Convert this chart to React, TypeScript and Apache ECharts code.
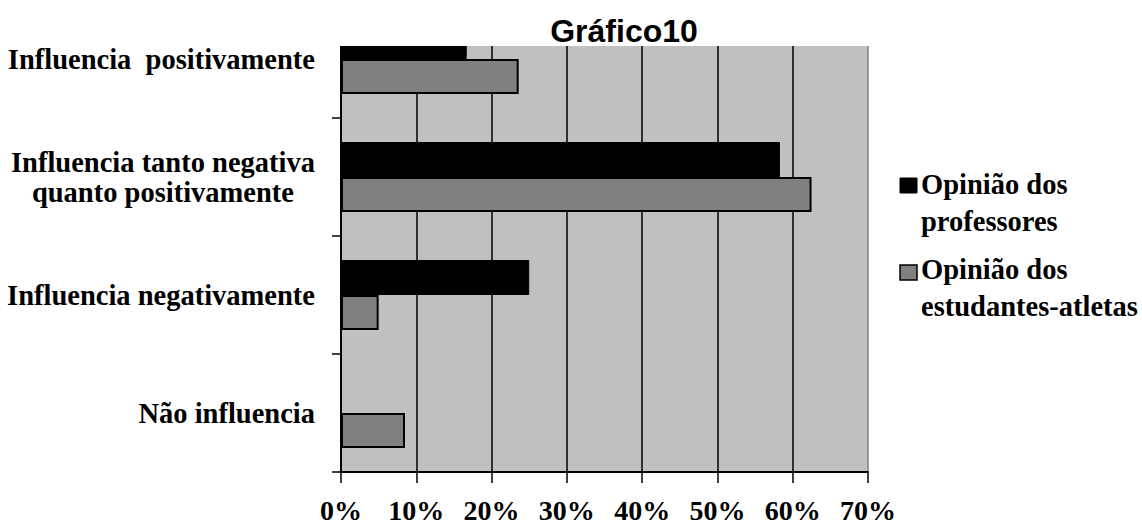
import React, { useEffect, useRef } from "react";
import * as echarts from "echarts";

const categories = [
  "Influencia  positivamente",
  "Influencia tanto negativa\nquanto positivamente",
  "Influencia negativamente",
  "Não influencia",
];
const seriesNames = ["Opinião dos professores", "Opinião dos estudantes-atletas"];
const legendLabels = ["Opinião dos\nprofessores", "Opinião dos\nestudantes-atletas"];
const professores = [16.7, 58.3, 25.0, 0];
const estudantes = [23.6, 62.5, 5.0, 8.5];
const xTickLabels = ["0%", "10%", "20%", "30%", "40%", "50%", "60%", "70%"];

const SERIF = "'Liberation Serif', 'Times New Roman', serif";

export default function App() {
  const ref = useRef<HTMLDivElement>(null);
  useEffect(() => {
    if (!ref.current) return;
    const chart = echarts.init(ref.current, null, { renderer: "svg" });
    const splitColors = xTickLabels.map((_, i) => (i === xTickLabels.length - 1 ? "#808080" : "#000000"));
    chart.setOption({
      animation: false,
      backgroundColor: "#ffffff",
      title: {
        text: "Gráfico10",
        left: 619,
        textAlign: "center",
        top: 10,
        textStyle: { fontFamily: "'Liberation Sans', Arial, sans-serif", fontWeight: "bold", fontSize: 32, color: "#000" },
        z: 10,
      },
      grid: {
        left: 341,
        right: 274,
        top: -3,
        bottom: 47,
        show: true,
        backgroundColor: "#c0c0c0",
        borderWidth: 0,
      },
      xAxis: {
        type: "value",
        min: 0,
        max: 70,
        interval: 10,
        axisLine: { show: true, lineStyle: { color: "#000", width: 2 } },
        axisTick: { show: true, length: 11, lineStyle: { color: "#000", width: 1.5 } },
        splitLine: { show: true, lineStyle: { color: splitColors, width: 1.5 } },
        axisLabel: {
          formatter: (v: number) => xTickLabels[Math.round(v / 10)] ?? "",
          margin: 24,
          fontFamily: SERIF,
          fontWeight: "bold",
          fontSize: 28,
          color: "#000",
        },
      },
      yAxis: {
        type: "category",
        inverse: true,
        data: categories,
        axisLine: { show: true, lineStyle: { color: "#000", width: 2 } },
        axisTick: { show: true, length: 9, lineStyle: { color: "#000", width: 1.5 } },
        axisLabel: {
          margin: 26,
          fontFamily: SERIF,
          fontWeight: "bold",
          fontSize: 28.5,
          color: "#000",
          lineHeight: 30,
          align: "right",
          formatter: (v: string) => {
            const parts = v.split("\n");
            if (parts.length === 2) return `{a|${parts[0]}}\n{b|${parts[1]}}`;
            return v;
          },
          rich: {
            a: { fontFamily: SERIF, fontWeight: "bold", fontSize: 28.5, color: "#000", lineHeight: 30 },
            b: { fontFamily: SERIF, fontWeight: "bold", fontSize: 28.5, color: "#000", lineHeight: 30, padding: [0, 21, 0, 0] },
          },
        },
      },
      series: [
        {
          name: seriesNames[0],
          type: "bar",
          data: professores,
          barWidth: 35,
          barGap: "0%",
          itemStyle: { color: "#000000", borderColor: "#000000", borderWidth: 1 },
        },
        {
          name: seriesNames[1],
          type: "bar",
          data: estudantes,
          barWidth: 35,
          barGap: "0%",
          itemStyle: { color: "#808080", borderColor: "#000000", borderWidth: 2 },
        },
      ],
      graphic: [
        { type: "rect", z: 5, shape: { x: 328, y: 0, width: 560, height: 46 }, style: { fill: "#ffffff" } },
        { type: "rect", z: 5, shape: { x: 900, y: 178, width: 17, height: 15 }, style: { fill: "#000000", stroke: "#000", lineWidth: 1 } },
        {
          type: "text",
          z: 5,
          x: 921,
          y: 166,
          style: { text: legendLabels[0], font: `bold 28.5px ${SERIF}`, fill: "#000", lineHeight: 37 },
        },
        { type: "rect", z: 5, shape: { x: 900, y: 265, width: 17, height: 15 }, style: { fill: "#808080", stroke: "#000", lineWidth: 1.5 } },
        {
          type: "text",
          z: 5,
          x: 921,
          y: 251,
          style: { text: legendLabels[1], font: `bold 28.5px ${SERIF}`, fill: "#000", lineHeight: 37 },
        },
      ],
    });
    return () => chart.dispose();
  }, []);
  return <div ref={ref} style={{ position: "absolute", left: 0, top: 0, width: 1142, height: 524 }} />;
}
